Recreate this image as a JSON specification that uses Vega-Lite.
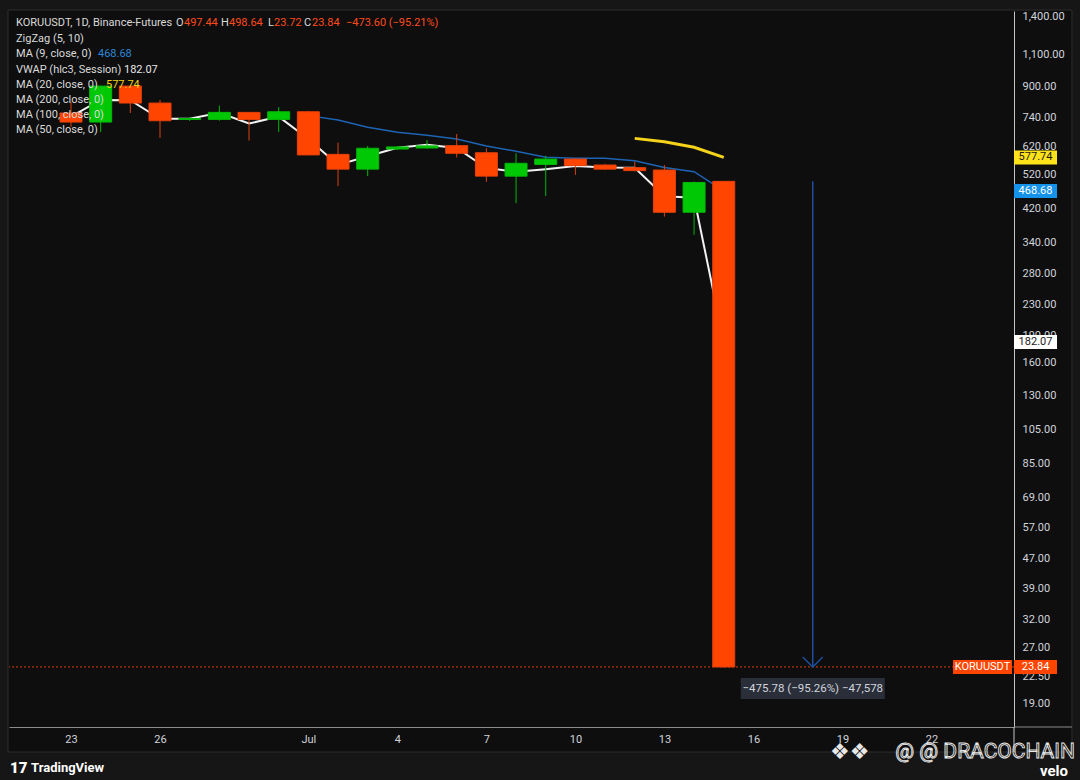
{
"$schema": "https://vega.github.io/schema/vega-lite/v6.json",
"width": 1005,
"height": 716,
"autosize": {"type": "none"},
"padding": {"left": 9, "top": 11, "right": 66, "bottom": 53},
"background": "#0e0e0e",
"config": {
  "view": {"stroke": null},
  "font": "Roboto",
  "axis": {"zindex": 0, "grid": false, "ticks": false, "title": null, "labelColor": "#d1d4dc", "labelFont": "Roboto", "labelFontSize": 11, "labelOverlap": false, "labelBound": false, "labelFlush": false},
  "text": {"font": "Roboto"}
},
"datasets": {
  "candles": [
    {"date": "2025-06-23", "open": 763, "high": 817, "low": 699, "close": 721, "vwap": 745.7, "ma9": null, "ma20": null},
    {"date": "2025-06-24", "open": 721, "high": 905, "low": 677, "close": 903, "vwap": 828.3, "ma9": null, "ma20": null},
    {"date": "2025-06-25", "open": 903, "high": 905, "low": 763, "close": 812, "vwap": 826.7, "ma9": null, "ma20": null},
    {"date": "2025-06-26", "open": 812, "high": 828, "low": 653, "close": 727, "vwap": 736, "ma9": null, "ma20": null},
    {"date": "2025-06-27", "open": 733, "high": 744, "low": 726, "close": 737, "vwap": 735.7, "ma9": null, "ma20": null},
    {"date": "2025-06-28", "open": 733, "high": 799, "low": 727, "close": 766, "vwap": 764, "ma9": null, "ma20": null},
    {"date": "2025-06-29", "open": 766, "high": 768, "low": 642, "close": 733, "vwap": 714.3, "ma9": null, "ma20": null},
    {"date": "2025-06-30", "open": 733, "high": 791, "low": 678, "close": 769, "vwap": 746, "ma9": null, "ma20": null},
    {"date": "2025-07-01", "open": 769, "high": 772, "low": 587, "close": 587, "vwap": 648.7, "ma9": 750.6, "ma20": null},
    {"date": "2025-07-02", "open": 589, "high": 634, "low": 483, "close": 537, "vwap": 551.3, "ma9": 730.1, "ma20": null},
    {"date": "2025-07-03", "open": 537, "high": 621, "low": 514, "close": 612, "vwap": 582.3, "ma9": 697.8, "ma20": null},
    {"date": "2025-07-04", "open": 609, "high": 620, "low": 605, "close": 617, "vwap": 614, "ma9": 676.1, "ma20": null},
    {"date": "2025-07-05", "open": 613, "high": 644, "low": 611, "close": 621, "vwap": 625.3, "ma9": 664.3, "ma20": null},
    {"date": "2025-07-06", "open": 622, "high": 669, "low": 578, "close": 593, "vwap": 613.3, "ma9": 648.3, "ma20": null},
    {"date": "2025-07-07", "open": 595, "high": 612, "low": 496, "close": 514, "vwap": 540.7, "ma9": 620.3, "ma20": null},
    {"date": "2025-07-08", "open": 514, "high": 593, "low": 434, "close": 557, "vwap": 528, "ma9": 600.8, "ma20": null},
    {"date": "2025-07-09", "open": 553, "high": 584, "low": 454, "close": 572, "vwap": 536.7, "ma9": 578.9, "ma20": null},
    {"date": "2025-07-10", "open": 572, "high": 575, "low": 518, "close": 549, "vwap": 547.3, "ma9": 574.7, "ma20": null},
    {"date": "2025-07-11", "open": 551, "high": 555, "low": 535, "close": 537, "vwap": 542.3, "ma9": 574.7, "ma20": null},
    {"date": "2025-07-12", "open": 542, "high": 563, "low": 530, "close": 532, "vwap": 541.7, "ma9": 565.8, "ma20": 651},
    {"date": "2025-07-13", "open": 534, "high": 551, "low": 399, "close": 410, "vwap": 453.3, "ma9": 542.8, "ma20": 637},
    {"date": "2025-07-14", "open": 410, "high": 497, "low": 356, "close": 494, "vwap": 449, "ma9": 528.7, "ma20": 616},
    {"date": "2025-07-15", "open": 497.44, "high": 498.64, "low": 23.72, "close": 23.84, "vwap": 182.07, "ma9": 468.68, "ma20": 577.74}
  ],
  "tags": [
    {"series": "MA20", "value": 577.74, "label": "577.74"},
    {"series": "MA9", "value": 468.68, "label": "468.68"},
    {"series": "VWAP", "value": 182.07, "label": "182.07"},
    {"series": "Close", "value": 23.84, "label": "23.84"}
  ]
},
"layer": [
  {
    "data": {"values": [{}]},
    "mark": {"type": "rect", "fill": "#161616", "clip": false},
    "encoding": {
      "x": {"datum": {"year": 2025, "month": 6, "date": 18, "utc": true}, "type": "temporal",
        "scale": {"type": "utc", "padding": 0, "domain": [{"year": 2025, "month": 6, "date": 20, "hours": 21, "minutes": 51, "utc": true}, {"year": 2025, "month": 7, "date": 24, "hours": 18, "minutes": 47, "utc": true}]},
        "axis": {"orient": "bottom", "domainColor": "#8c8c8c", "domainWidth": 1, "labelPadding": 6,
          "values": [
            {"year": 2025, "month": 6, "date": 23, "utc": true},
            {"year": 2025, "month": 6, "date": 26, "utc": true},
            {"year": 2025, "month": 7, "date": 1, "utc": true},
            {"year": 2025, "month": 7, "date": 4, "utc": true},
            {"year": 2025, "month": 7, "date": 7, "utc": true},
            {"year": 2025, "month": 7, "date": 10, "utc": true},
            {"year": 2025, "month": 7, "date": 13, "utc": true},
            {"year": 2025, "month": 7, "date": 16, "utc": true},
            {"year": 2025, "month": 7, "date": 19, "utc": true},
            {"year": 2025, "month": 7, "date": 22, "utc": true}
          ],
          "labelExpr": "utcdate(datum.value) == 1 ? utcFormat(datum.value, '%b') : '' + utcdate(datum.value)"}},
      "x2": {"datum": {"year": 2025, "month": 7, "date": 30, "utc": true}},
      "y": {"datum": 1453.6, "type": "quantitative",
        "scale": {"type": "log", "domain": [16.37, 1444.5], "nice": false, "zero": false},
        "axis": {"orient": "right", "domainColor": "#c4c4c4", "domainWidth": 1, "labelPadding": 8, "labelAlign": "left", "format": ",.2f",
          "values": [19, 22.5, 27, 32, 39, 47, 57, 69, 85, 105, 130, 160, 190, 230, 280, 340, 420, 520, 620, 740, 900, 1100, 1400]}},
      "y2": {"datum": 9000}
    }
  },
  {
    "data": {"values": [{}]},
    "mark": {"type": "rect", "fill": "#161616", "clip": false},
    "encoding": {
      "x": {"datum": {"year": 2025, "month": 6, "date": 18, "utc": true}, "type": "temporal"},
      "x2": {"datum": {"year": 2025, "month": 7, "date": 30, "utc": true}},
      "y": {"datum": 14.0, "type": "quantitative"},
      "y2": {"datum": 3}
    }
  },
  {
    "data": {"values": [{}]},
    "mark": {"type": "rect", "fill": "#161616", "clip": false},
    "encoding": {
      "x": {"datum": {"year": 2025, "month": 6, "date": 18, "utc": true}, "type": "temporal"},
      "x2": {"datum": {"year": 2025, "month": 6, "date": 20, "hours": 21, "minutes": 3, "utc": true}},
      "y": {"datum": 9000, "type": "quantitative"},
      "y2": {"datum": 3}
    }
  },
  {
    "data": {"values": [{}]},
    "mark": {"type": "rect", "fill": "#161616", "clip": false},
    "encoding": {
      "x": {"datum": {"year": 2025, "month": 7, "date": 26, "hours": 17, "minutes": 41, "utc": true}, "type": "temporal"},
      "x2": {"datum": {"year": 2025, "month": 7, "date": 30, "utc": true}},
      "y": {"datum": 9000, "type": "quantitative"},
      "y2": {"datum": 3}
    }
  },
  {
    "data": {"values": [{}]},
    "mark": {"type": "rect", "fill": null, "fillOpacity": 0, "stroke": "#2e2e2e", "strokeWidth": 1, "clip": false},
    "encoding": {
      "x": {"datum": {"year": 2025, "month": 6, "date": 20, "hours": 21, "minutes": 3, "utc": true}, "type": "temporal"},
      "x2": {"datum": {"year": 2025, "month": 7, "date": 26, "hours": 17, "minutes": 41, "utc": true}},
      "y": {"datum": 1453.6, "type": "quantitative"},
      "y2": {"datum": 14.0}
    }
  },
  {
    "data": {"values": [{}]},
    "mark": {"type": "rule", "color": "#c4c4c4", "strokeWidth": 1, "clip": false},
    "encoding": {
      "x": {"datum": {"year": 2025, "month": 7, "date": 24, "hours": 18, "minutes": 47, "utc": true}, "type": "temporal"},
      "y": {"datum": 16.37, "type": "quantitative"},
      "y2": {"datum": 14.0}
    }
  },
  {
    "data": {"values": [{}]},
    "mark": {"type": "rule", "color": "#8c8c8c", "strokeWidth": 1, "clip": false},
    "encoding": {
      "x": {"datum": {"year": 2025, "month": 7, "date": 24, "hours": 18, "minutes": 47, "utc": true}, "type": "temporal"},
      "x2": {"datum": {"year": 2025, "month": 7, "date": 26, "hours": 17, "minutes": 41, "utc": true}},
      "y": {"datum": 16.37, "type": "quantitative"}
    }
  },
  {
    "data": {"values": [{}]},
    "mark": {"type": "rule", "color": "#ff4500", "strokeWidth": 1, "strokeDash": [2, 2], "opacity": 0.85},
    "encoding": {"y": {"datum": 23.84, "type": "quantitative"}}
  },
  {
    "data": {"name": "candles"},
    "mark": {"type": "line", "color": "#f2f2f2", "strokeWidth": 2},
    "encoding": {"x": {"field": "date", "type": "temporal"}, "y": {"field": "vwap", "type": "quantitative"}}
  },
  {
    "data": {"name": "candles"},
    "mark": {"type": "line", "color": "#1d64b4", "strokeWidth": 1.5},
    "encoding": {"x": {"field": "date", "type": "temporal"}, "y": {"field": "ma9", "type": "quantitative"}}
  },
  {
    "data": {"name": "candles"},
    "mark": {"type": "line", "color": "#f5d31a", "strokeWidth": 3},
    "encoding": {"x": {"field": "date", "type": "temporal"}, "y": {"field": "ma20", "type": "quantitative"}}
  },
  {
    "data": {"name": "candles"},
    "mark": {"type": "rule", "strokeWidth": 1},
    "encoding": {
      "x": {"field": "date", "type": "temporal"},
      "y": {"field": "low", "type": "quantitative"},
      "y2": {"field": "high"},
      "color": {"condition": {"test": "datum.open < datum.close", "value": "#00b806"}, "value": "#d9430f"}
    }
  },
  {
    "data": {"name": "candles"},
    "mark": {"type": "bar", "width": 22, "strokeWidth": 1},
    "encoding": {
      "x": {"field": "date", "type": "temporal"},
      "y": {"field": "open", "type": "quantitative"},
      "y2": {"field": "close"},
      "fill": {"condition": {"test": "datum.open < datum.close", "value": "#00c805"}, "value": "#ff4500"},
      "stroke": {"condition": {"test": "datum.open < datum.close", "value": "#00b806"}, "value": "#e8400a"}
    }
  },
  {
    "data": {"values": [{}]},
    "mark": {"type": "rule", "color": "#1f4f9e", "strokeWidth": 1.5},
    "encoding": {
      "x": {"datum": {"year": 2025, "month": 7, "date": 18, "utc": true}, "type": "temporal"},
      "y": {"datum": 497.44, "type": "quantitative"},
      "y2": {"datum": 23.84}
    }
  },
  {
    "data": {"values": [{}]},
    "mark": {"type": "point", "shape": "M-1,-1L0,0L1,-1", "size": 400, "filled": false, "stroke": "#1f4f9e", "strokeWidth": 1.5, "opacity": 1},
    "encoding": {
      "x": {"datum": {"year": 2025, "month": 7, "date": 18, "utc": true}, "type": "temporal"},
      "y": {"datum": 23.84, "type": "quantitative"}
    }
  },
  {
    "data": {"values": [{}]},
    "mark": {"type": "point", "shape": "M-1,-0.1458H1V0.1458H-1Z", "size": 20736, "filled": true, "fill": "#2a2e39", "strokeWidth": 0, "opacity": 1, "clip": false},
    "encoding": {
      "x": {"datum": {"year": 2025, "month": 7, "date": 18, "utc": true}, "type": "temporal"},
      "y": {"datum": 20.82, "type": "quantitative"}
    }
  },
  {
    "data": {"values": [{}]},
    "mark": {"type": "text", "text": "−475.78 (−95.26%) −47,578", "align": "center", "baseline": "middle", "fontSize": 11.5, "color": "#d1d4dc"},
    "encoding": {
      "x": {"datum": {"year": 2025, "month": 7, "date": 18, "utc": true}, "type": "temporal"},
      "y": {"datum": 20.82, "type": "quantitative"}
    }
  },
  {
    "data": {"name": "tags"},
    "mark": {"type": "point", "shape": "M-1,-0.3256H1V0.3256H-1Z", "size": 1849, "filled": true, "strokeWidth": 0, "opacity": 1, "clip": false},
    "encoding": {
      "x": {"datum": {"year": 2025, "month": 7, "date": 25, "hours": 12, "minutes": 11, "utc": true}, "type": "temporal"},
      "y": {"field": "value", "type": "quantitative"},
      "fill": {"field": "series", "type": "nominal", "scale": {"domain": ["MA20", "MA9", "VWAP", "Close"], "range": ["#ffe21a", "#1592ea", "#ffffff", "#ff4500"]}, "legend": null}
    }
  },
  {
    "data": {"name": "tags"},
    "mark": {"type": "text", "align": "center", "baseline": "middle", "fontSize": 11, "clip": false},
    "encoding": {
      "x": {"datum": {"year": 2025, "month": 7, "date": 25, "hours": 12, "minutes": 11, "utc": true}, "type": "temporal"},
      "y": {"field": "value", "type": "quantitative"},
      "text": {"field": "label"},
      "color": {"field": "series", "type": "nominal", "scale": {"domain": ["MA20", "MA9", "VWAP", "Close"], "range": ["#1a1a1a", "#ffffff", "#1a1a1a", "#ffffff"]}, "legend": null}
    }
  },
  {
    "data": {"values": [{}]},
    "mark": {"type": "point", "shape": "M-1,-0.2373H1V0.2373H-1Z", "size": 3481, "filled": true, "fill": "#ff4500", "strokeWidth": 0, "opacity": 1},
    "encoding": {
      "x": {"datum": {"year": 2025, "month": 7, "date": 23, "hours": 17, "minutes": 17, "utc": true}, "type": "temporal"},
      "y": {"datum": 23.84, "type": "quantitative"}
    }
  },
  {
    "data": {"values": [{}]},
    "mark": {"type": "text", "text": "KORUUSDT", "align": "center", "baseline": "middle", "fontSize": 11, "color": "#ffffff"},
    "encoding": {
      "x": {"datum": {"year": 2025, "month": 7, "date": 23, "hours": 17, "minutes": 17, "utc": true}, "type": "temporal"},
      "y": {"datum": 23.84, "type": "quantitative"}
    }
  },
  {"data": {"values": [{}]}, "mark": {"type": "text", "text": "KORUUSDT, 1D, Binance-Futures", "align": "left", "baseline": "middle", "fontSize": 11, "color": "#dadada"},
   "encoding": {"x": {"datum": {"year": 2025, "month": 6, "date": 21, "hours": 3, "minutes": 30, "utc": true}, "type": "temporal"}, "y": {"datum": 1340, "type": "quantitative"}}},
  {"data": {"values": [{}]}, "mark": {"type": "text", "text": "O", "dx": 160, "align": "left", "baseline": "middle", "fontSize": 11, "color": "#dadada"},
   "encoding": {"x": {"datum": {"year": 2025, "month": 6, "date": 21, "hours": 3, "minutes": 30, "utc": true}, "type": "temporal"}, "y": {"datum": 1340, "type": "quantitative"}}},
  {"data": {"values": [{}]}, "mark": {"type": "text", "text": "497.44", "dx": 168, "align": "left", "baseline": "middle", "fontSize": 11, "color": "#ff4a1c"},
   "encoding": {"x": {"datum": {"year": 2025, "month": 6, "date": 21, "hours": 3, "minutes": 30, "utc": true}, "type": "temporal"}, "y": {"datum": 1340, "type": "quantitative"}}},
  {"data": {"values": [{}]}, "mark": {"type": "text", "text": "H", "dx": 205, "align": "left", "baseline": "middle", "fontSize": 11, "color": "#dadada"},
   "encoding": {"x": {"datum": {"year": 2025, "month": 6, "date": 21, "hours": 3, "minutes": 30, "utc": true}, "type": "temporal"}, "y": {"datum": 1340, "type": "quantitative"}}},
  {"data": {"values": [{}]}, "mark": {"type": "text", "text": "498.64", "dx": 213, "align": "left", "baseline": "middle", "fontSize": 11, "color": "#ff4a1c"},
   "encoding": {"x": {"datum": {"year": 2025, "month": 6, "date": 21, "hours": 3, "minutes": 30, "utc": true}, "type": "temporal"}, "y": {"datum": 1340, "type": "quantitative"}}},
  {"data": {"values": [{}]}, "mark": {"type": "text", "text": "L", "dx": 252, "align": "left", "baseline": "middle", "fontSize": 11, "color": "#dadada"},
   "encoding": {"x": {"datum": {"year": 2025, "month": 6, "date": 21, "hours": 3, "minutes": 30, "utc": true}, "type": "temporal"}, "y": {"datum": 1340, "type": "quantitative"}}},
  {"data": {"values": [{}]}, "mark": {"type": "text", "text": "23.72", "dx": 258, "align": "left", "baseline": "middle", "fontSize": 11, "color": "#ff4a1c"},
   "encoding": {"x": {"datum": {"year": 2025, "month": 6, "date": 21, "hours": 3, "minutes": 30, "utc": true}, "type": "temporal"}, "y": {"datum": 1340, "type": "quantitative"}}},
  {"data": {"values": [{}]}, "mark": {"type": "text", "text": "C", "dx": 288, "align": "left", "baseline": "middle", "fontSize": 11, "color": "#dadada"},
   "encoding": {"x": {"datum": {"year": 2025, "month": 6, "date": 21, "hours": 3, "minutes": 30, "utc": true}, "type": "temporal"}, "y": {"datum": 1340, "type": "quantitative"}}},
  {"data": {"values": [{}]}, "mark": {"type": "text", "text": "23.84", "dx": 296, "align": "left", "baseline": "middle", "fontSize": 11, "color": "#ff4a1c"},
   "encoding": {"x": {"datum": {"year": 2025, "month": 6, "date": 21, "hours": 3, "minutes": 30, "utc": true}, "type": "temporal"}, "y": {"datum": 1340, "type": "quantitative"}}},
  {"data": {"values": [{}]}, "mark": {"type": "text", "text": "−473.60 (−95.21%)", "dx": 330, "align": "left", "baseline": "middle", "fontSize": 11, "color": "#ff4a1c"},
   "encoding": {"x": {"datum": {"year": 2025, "month": 6, "date": 21, "hours": 3, "minutes": 30, "utc": true}, "type": "temporal"}, "y": {"datum": 1340, "type": "quantitative"}}},
  {"data": {"values": [{}]}, "mark": {"type": "text", "text": "ZigZag (5, 10)", "align": "left", "baseline": "middle", "fontSize": 11, "color": "#dadada"},
   "encoding": {"x": {"datum": {"year": 2025, "month": 6, "date": 21, "hours": 3, "minutes": 30, "utc": true}, "type": "temporal"}, "y": {"datum": 1212, "type": "quantitative"}}},
  {"data": {"values": [{}]}, "mark": {"type": "text", "text": "MA (9, close, 0)", "align": "left", "baseline": "middle", "fontSize": 11, "color": "#dadada"},
   "encoding": {"x": {"datum": {"year": 2025, "month": 6, "date": 21, "hours": 3, "minutes": 30, "utc": true}, "type": "temporal"}, "y": {"datum": 1103.8, "type": "quantitative"}}},
  {"data": {"values": [{}]}, "mark": {"type": "text", "text": "468.68", "dx": 82, "align": "left", "baseline": "middle", "fontSize": 11, "color": "#2b86d6"},
   "encoding": {"x": {"datum": {"year": 2025, "month": 6, "date": 21, "hours": 3, "minutes": 30, "utc": true}, "type": "temporal"}, "y": {"datum": 1103.8, "type": "quantitative"}}},
  {"data": {"values": [{}]}, "mark": {"type": "text", "text": "VWAP (hlc3, Session)", "align": "left", "baseline": "middle", "fontSize": 11, "color": "#dadada"},
   "encoding": {"x": {"datum": {"year": 2025, "month": 6, "date": 21, "hours": 3, "minutes": 30, "utc": true}, "type": "temporal"}, "y": {"datum": 998.6, "type": "quantitative"}}},
  {"data": {"values": [{}]}, "mark": {"type": "text", "text": "182.07", "dx": 108, "align": "left", "baseline": "middle", "fontSize": 11, "color": "#e6e6e6"},
   "encoding": {"x": {"datum": {"year": 2025, "month": 6, "date": 21, "hours": 3, "minutes": 30, "utc": true}, "type": "temporal"}, "y": {"datum": 998.6, "type": "quantitative"}}},
  {"data": {"values": [{}]}, "mark": {"type": "text", "text": "MA (20, close, 0)", "align": "left", "baseline": "middle", "fontSize": 11, "color": "#dadada"},
   "encoding": {"x": {"datum": {"year": 2025, "month": 6, "date": 21, "hours": 3, "minutes": 30, "utc": true}, "type": "temporal"}, "y": {"datum": 909, "type": "quantitative"}}},
  {"data": {"values": [{}]}, "mark": {"type": "text", "text": "577.74", "dx": 90, "align": "left", "baseline": "middle", "fontSize": 11, "color": "#f2d21b"},
   "encoding": {"x": {"datum": {"year": 2025, "month": 6, "date": 21, "hours": 3, "minutes": 30, "utc": true}, "type": "temporal"}, "y": {"datum": 909, "type": "quantitative"}}},
  {"data": {"values": [{}]}, "mark": {"type": "text", "text": "MA (200, close, 0)", "align": "left", "baseline": "middle", "fontSize": 11, "color": "#dadada"},
   "encoding": {"x": {"datum": {"year": 2025, "month": 6, "date": 21, "hours": 3, "minutes": 30, "utc": true}, "type": "temporal"}, "y": {"datum": 827.7, "type": "quantitative"}}},
  {"data": {"values": [{}]}, "mark": {"type": "text", "text": "MA (100, close, 0)", "align": "left", "baseline": "middle", "fontSize": 11, "color": "#dadada"},
   "encoding": {"x": {"datum": {"year": 2025, "month": 6, "date": 21, "hours": 3, "minutes": 30, "utc": true}, "type": "temporal"}, "y": {"datum": 753.5, "type": "quantitative"}}},
  {"data": {"values": [{}]}, "mark": {"type": "text", "text": "MA (50, close, 0)", "align": "left", "baseline": "middle", "fontSize": 11, "color": "#dadada"},
   "encoding": {"x": {"datum": {"year": 2025, "month": 6, "date": 21, "hours": 3, "minutes": 30, "utc": true}, "type": "temporal"}, "y": {"datum": 686, "type": "quantitative"}}},
  {"data": {"values": [{}]}, "mark": {"type": "text", "text": "17", "align": "left", "baseline": "middle", "fontSize": 15, "fontWeight": 900, "color": "#ffffff"},
   "encoding": {"x": {"datum": {"year": 2025, "month": 6, "date": 20, "hours": 22, "minutes": 39, "utc": true}, "type": "temporal"}, "y": {"datum": 12.66, "type": "quantitative"}}},
  {"data": {"values": [{}]}, "mark": {"type": "text", "text": "TradingView", "align": "left", "baseline": "middle", "fontSize": 13, "fontWeight": "bold", "color": "#ffffff"},
   "encoding": {"x": {"datum": {"year": 2025, "month": 6, "date": 21, "hours": 15, "minutes": 39, "utc": true}, "type": "temporal"}, "y": {"datum": 12.66, "type": "quantitative"}}},
  {"data": {"values": [{}]}, "mark": {"type": "text", "text": "❖❖", "align": "left", "baseline": "middle", "fontSize": 22, "font": "DejaVu Sans", "color": "#e8e8e8"},
   "encoding": {"x": {"datum": {"year": 2025, "month": 7, "date": 18, "hours": 13, "minutes": 55, "utc": true}, "type": "temporal"}, "y": {"datum": 14.0, "type": "quantitative"}}},
  {"data": {"values": [{}]}, "mark": {"type": "text", "text": "@ @ DRACOCHAIN", "align": "right", "baseline": "middle", "fontSize": 21, "fillOpacity": 0, "stroke": "#e8e8e8", "strokeWidth": 0.9},
   "encoding": {"x": {"datum": {"year": 2025, "month": 7, "date": 26, "hours": 20, "minutes": 9, "utc": true}, "type": "temporal"}, "y": {"datum": 14.0, "type": "quantitative"}}},
  {"data": {"values": [{}]}, "mark": {"type": "text", "text": "velo", "align": "left", "baseline": "middle", "fontSize": 15, "fontWeight": "bold", "color": "#ffffff"},
   "encoding": {"x": {"datum": {"year": 2025, "month": 7, "date": 25, "hours": 15, "minutes": 50, "utc": true}, "type": "temporal"}, "y": {"datum": 12.4, "type": "quantitative"}}}
]
}
